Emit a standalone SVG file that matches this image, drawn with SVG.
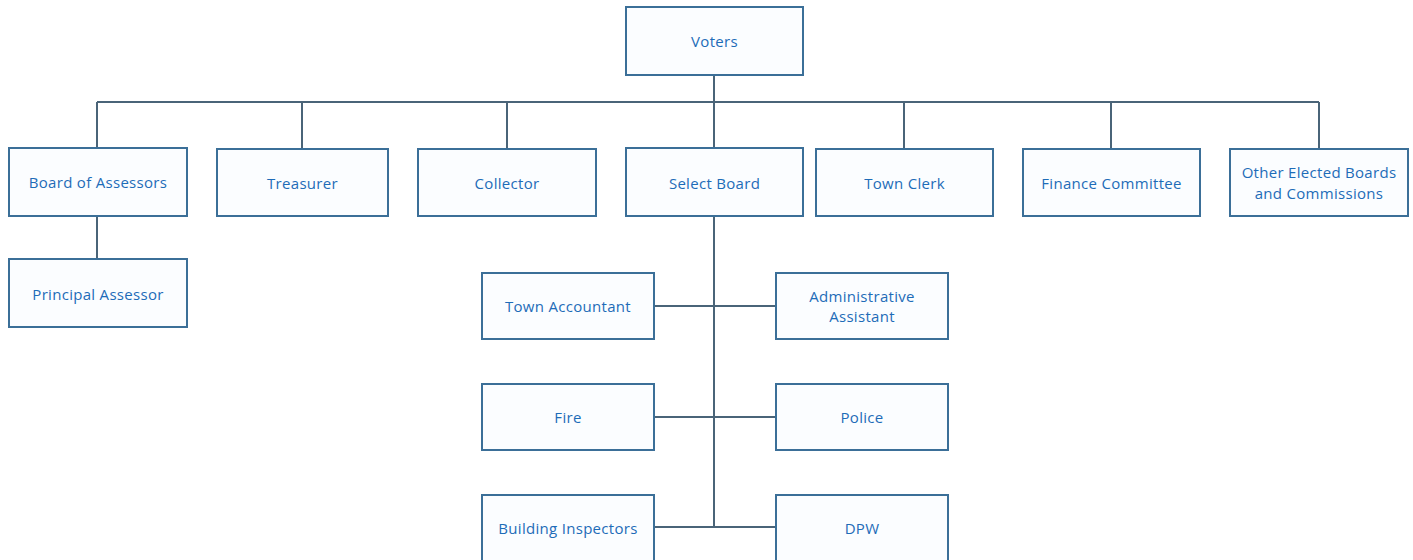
<svg xmlns="http://www.w3.org/2000/svg" width="1413" height="560" viewBox="0 0 1413 560">
<style>
.box{fill:#fbfdff;stroke:#3b6f98;stroke-width:2}
.t{font-family:"Open Sans","Liberation Sans",sans-serif;font-size:15px;letter-spacing:0.3px;fill:#1e6cb8;text-anchor:middle;dominant-baseline:central}
.c{stroke:#4a6478;stroke-width:2;fill:none}
</style>
<rect width="1413" height="560" fill="#ffffff"/>
<g id="connectors">
<line class="c" x1="714" y1="75" x2="714" y2="102"/>
<line class="c" x1="97" y1="102" x2="1319" y2="102"/>
<line class="c" x1="97" y1="102" x2="97" y2="148"/>
<line class="c" x1="302" y1="102" x2="302" y2="148"/>
<line class="c" x1="507" y1="102" x2="507" y2="148"/>
<line class="c" x1="714" y1="102" x2="714" y2="148"/>
<line class="c" x1="904" y1="102" x2="904" y2="148"/>
<line class="c" x1="1111" y1="102" x2="1111" y2="148"/>
<line class="c" x1="1319" y1="102" x2="1319" y2="148"/>
<line class="c" x1="97" y1="216" x2="97" y2="259"/>
<line class="c" x1="714" y1="216" x2="714" y2="527"/>
<line class="c" x1="654" y1="306" x2="776" y2="306"/>
<line class="c" x1="654" y1="417" x2="776" y2="417"/>
<line class="c" x1="654" y1="527" x2="776" y2="527"/>
</g>
<g id="voters"><rect class="box" x="626" y="7" width="177" height="68"/><text class="t" x="714.5" y="41">Voters</text></g>
<g id="board-of-assessors"><rect class="box" x="9" y="148" width="178" height="68"/><text class="t" x="98" y="182">Board of Assessors</text></g>
<g id="treasurer"><rect class="box" x="217" y="149" width="171" height="67"/><text class="t" x="302.5" y="183">Treasurer</text></g>
<g id="collector"><rect class="box" x="418" y="149" width="178" height="67"/><text class="t" x="507" y="183">Collector</text></g>
<g id="select-board"><rect class="box" x="626" y="148" width="177" height="68"/><text class="t" x="714.5" y="183">Select Board</text></g>
<g id="town-clerk"><rect class="box" x="816" y="149" width="177" height="67"/><text class="t" x="904.5" y="183">Town Clerk</text></g>
<g id="finance-committee"><rect class="box" x="1023" y="149" width="177" height="67"/><text class="t" x="1111.5" y="183">Finance Committee</text></g>
<g id="other-elected"><rect class="box" x="1230" y="149" width="178" height="67"/><text class="t" x="1319" y="172">Other Elected Boards</text><text class="t" x="1319" y="193">and Commissions</text></g>
<g id="principal-assessor"><rect class="box" x="9" y="259" width="178" height="68"/><text class="t" x="98" y="294">Principal Assessor</text></g>
<g id="town-accountant"><rect class="box" x="482" y="273" width="172" height="66"/><text class="t" x="568" y="306">Town Accountant</text></g>
<g id="administrative-assistant"><rect class="box" x="776" y="273" width="172" height="66"/><text class="t" x="862" y="296">Administrative</text><text class="t" x="862" y="316">Assistant</text></g>
<g id="fire"><rect class="box" x="482" y="384" width="172" height="66"/><text class="t" x="568" y="417">Fire</text></g>
<g id="police"><rect class="box" x="776" y="384" width="172" height="66"/><text class="t" x="862" y="417">Police</text></g>
<g id="building-inspectors"><rect class="box" x="482" y="495" width="172" height="70"/><text class="t" x="568" y="528">Building Inspectors</text></g>
<g id="dpw"><rect class="box" x="776" y="495" width="172" height="70"/><text class="t" x="862" y="528">DPW</text></g>
</svg>
